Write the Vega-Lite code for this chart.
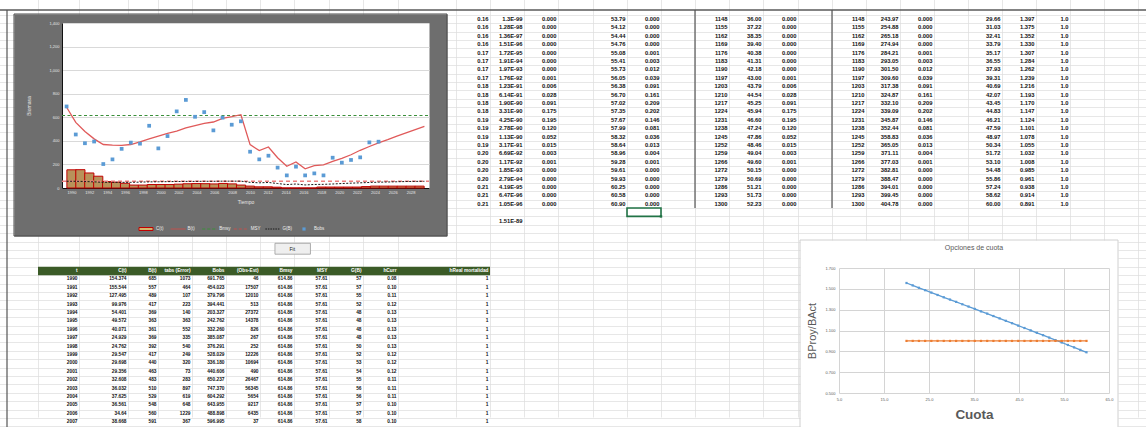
{
"$schema": "https://vega.github.io/schema/vega-lite/v6.json",
"width": 1146, "height": 427, "padding": 0, "autosize": {"type": "none"},
"background": "#ffffff",
"config": {"view": {"stroke": null}, "font": "Liberation Sans"},
"resolve": {"scale": {"x": "independent", "y": "independent"}},
"datasets": {
"hdr": [{"c":2,"h":"t"},{"c":3,"h":"C(t)"},{"c":4,"h":"B(t)"},{"c":5,"h":"tabs (Error)"},{"c":6,"h":"Bobs"},{"c":7,"h":"(Obs-Est)"},{"c":8,"h":"Bmsy"},{"c":9,"h":"MSY"},{"c":10,"h":"G(B)"},{"c":11,"h":"hCurr"},{"c":13,"h":"hReal mortalidad"}],
"colmap": [{"key":"t","c":2},{"key":"Ct","c":3},{"key":"Bt","c":4},{"key":"tabs","c":5},{"key":"Bobs","c":6},{"key":"oe","c":7},{"key":"Bmsy","c":8},{"key":"MSY","c":9},{"key":"GB","c":10},{"key":"hCurr","c":11},{"key":"hReal","c":13},{"key":"qa","c":13},{"key":"qb","c":14},{"key":"qc","c":15},{"key":"qe","c":17},{"key":"qf","c":18},{"key":"qh","c":20},{"key":"qi","c":21},{"key":"qj","c":22},{"key":"qk","c":24},{"key":"ql","c":25},{"key":"qm","c":26},{"key":"qn","c":28},{"key":"qo","c":29},{"key":"qp","c":30}],
"bottom": [
{"r":31,"t":"1990","Ct":"154.374","Bt":"685","tabs":"1073","Bobs":"691.765","oe":"46","Bmsy":"614.86","MSY":"57.61","GB":"57","hCurr":"0.08","hReal":"1"},
{"r":32,"t":"1991","Ct":"155.544","Bt":"557","tabs":"464","Bobs":"454.023","oe":"17507","Bmsy":"614.86","MSY":"57.61","GB":"57","hCurr":"0.10","hReal":"1"},
{"r":33,"t":"1992","Ct":"127.495","Bt":"489","tabs":"107","Bobs":"379.796","oe":"12010","Bmsy":"614.86","MSY":"57.61","GB":"55","hCurr":"0.11","hReal":"1"},
{"r":34,"t":"1993","Ct":"99.976","Bt":"417","tabs":"223","Bobs":"394.441","oe":"513","Bmsy":"614.86","MSY":"57.61","GB":"52","hCurr":"0.12","hReal":"1"},
{"r":35,"t":"1994","Ct":"54.401","Bt":"369","tabs":"140","Bobs":"203.327","oe":"27372","Bmsy":"614.86","MSY":"57.61","GB":"48","hCurr":"0.13","hReal":"1"},
{"r":36,"t":"1995","Ct":"49.572","Bt":"363","tabs":"363","Bobs":"242.762","oe":"14378","Bmsy":"614.86","MSY":"57.61","GB":"48","hCurr":"0.13","hReal":"1"},
{"r":37,"t":"1996","Ct":"40.071","Bt":"361","tabs":"552","Bobs":"332.260","oe":"826","Bmsy":"614.86","MSY":"57.61","GB":"48","hCurr":"0.13","hReal":"1"},
{"r":38,"t":"1997","Ct":"24.929","Bt":"369","tabs":"335","Bobs":"385.087","oe":"267","Bmsy":"614.86","MSY":"57.61","GB":"48","hCurr":"0.13","hReal":"1"},
{"r":39,"t":"1998","Ct":"24.762","Bt":"392","tabs":"540","Bobs":"376.291","oe":"252","Bmsy":"614.86","MSY":"57.61","GB":"50","hCurr":"0.13","hReal":"1"},
{"r":40,"t":"1999","Ct":"29.547","Bt":"417","tabs":"249","Bobs":"528.029","oe":"12226","Bmsy":"614.86","MSY":"57.61","GB":"52","hCurr":"0.12","hReal":"1"},
{"r":41,"t":"2000","Ct":"29.698","Bt":"440","tabs":"320","Bobs":"336.180","oe":"10694","Bmsy":"614.86","MSY":"57.61","GB":"53","hCurr":"0.12","hReal":"1"},
{"r":42,"t":"2001","Ct":"29.356","Bt":"463","tabs":"73","Bobs":"440.606","oe":"490","Bmsy":"614.86","MSY":"57.61","GB":"54","hCurr":"0.12","hReal":"1"},
{"r":43,"t":"2002","Ct":"32.608","Bt":"483","tabs":"283","Bobs":"650.237","oe":"26467","Bmsy":"614.86","MSY":"57.61","GB":"55","hCurr":"0.11","hReal":"1"},
{"r":44,"t":"2003","Ct":"36.032","Bt":"510","tabs":"897","Bobs":"747.370","oe":"56345","Bmsy":"614.86","MSY":"57.61","GB":"56","hCurr":"0.11","hReal":"1"},
{"r":45,"t":"2004","Ct":"37.625","Bt":"529","tabs":"619","Bobs":"604.292","oe":"5654","Bmsy":"614.86","MSY":"57.61","GB":"56","hCurr":"0.11","hReal":"1"},
{"r":46,"t":"2005","Ct":"36.561","Bt":"548","tabs":"648","Bobs":"643.955","oe":"9217","Bmsy":"614.86","MSY":"57.61","GB":"57","hCurr":"0.10","hReal":"1"},
{"r":47,"t":"2006","Ct":"34.64","Bt":"560","tabs":"1229","Bobs":"488.898","oe":"6435","Bmsy":"614.86","MSY":"57.61","GB":"57","hCurr":"0.10","hReal":"1"},
{"r":48,"t":"2007","Ct":"38.668","Bt":"591","tabs":"367","Bobs":"596.995","oe":"37","Bmsy":"614.86","MSY":"57.61","GB":"58","hCurr":"0.10","hReal":"1"}
],
"top": [
{"r":0,"qa":"0.16","qb":"1.3E-99","qc":"0.000","qe":"53.79","qf":"0.000","qh":"1148","qi":"36.00","qj":"0.000","qk":"1148","ql":"243.97","qm":"0.000","qn":"29.66","qo":"1.397","qp":"1.0"},
{"r":1,"qa":"0.16","qb":"1.28E-98","qc":"0.000","qe":"54.12","qf":"0.000","qh":"1155","qi":"37.22","qj":"0.000","qk":"1155","ql":"254.88","qm":"0.000","qn":"31.03","qo":"1.375","qp":"1.0"},
{"r":2,"qa":"0.16","qb":"1.36E-97","qc":"0.000","qe":"54.44","qf":"0.000","qh":"1162","qi":"38.35","qj":"0.000","qk":"1162","ql":"265.18","qm":"0.000","qn":"32.41","qo":"1.352","qp":"1.0"},
{"r":3,"qa":"0.16","qb":"1.51E-96","qc":"0.000","qe":"54.76","qf":"0.000","qh":"1169","qi":"39.40","qj":"0.000","qk":"1169","ql":"274.94","qm":"0.000","qn":"33.79","qo":"1.330","qp":"1.0"},
{"r":4,"qa":"0.17","qb":"1.72E-95","qc":"0.000","qe":"55.08","qf":"0.001","qh":"1176","qi":"40.38","qj":"0.000","qk":"1176","ql":"284.21","qm":"0.001","qn":"35.17","qo":"1.307","qp":"1.0"},
{"r":5,"qa":"0.17","qb":"1.91E-94","qc":"0.000","qe":"55.41","qf":"0.003","qh":"1183","qi":"41.31","qj":"0.000","qk":"1183","ql":"293.05","qm":"0.003","qn":"36.55","qo":"1.284","qp":"1.0"},
{"r":6,"qa":"0.17","qb":"1.97E-93","qc":"0.000","qe":"55.73","qf":"0.012","qh":"1190","qi":"42.18","qj":"0.000","qk":"1190","ql":"301.50","qm":"0.012","qn":"37.93","qo":"1.262","qp":"1.0"},
{"r":7,"qa":"0.17","qb":"1.76E-92","qc":"0.001","qe":"56.05","qf":"0.039","qh":"1197","qi":"43.00","qj":"0.001","qk":"1197","ql":"309.60","qm":"0.039","qn":"39.31","qo":"1.239","qp":"1.0"},
{"r":8,"qa":"0.18","qb":"1.23E-91","qc":"0.006","qe":"56.38","qf":"0.091","qh":"1203","qi":"43.79","qj":"0.006","qk":"1203","ql":"317.38","qm":"0.091","qn":"40.69","qo":"1.216","qp":"1.0"},
{"r":9,"qa":"0.18","qb":"6.14E-91","qc":"0.028","qe":"56.70","qf":"0.161","qh":"1210","qi":"44.54","qj":"0.028","qk":"1210","ql":"324.87","qm":"0.161","qn":"42.07","qo":"1.193","qp":"1.0"},
{"r":10,"qa":"0.18","qb":"1.90E-90","qc":"0.091","qe":"57.02","qf":"0.209","qh":"1217","qi":"45.25","qj":"0.091","qk":"1217","ql":"332.10","qm":"0.209","qn":"43.45","qo":"1.170","qp":"1.0"},
{"r":11,"qa":"0.18","qb":"3.31E-90","qc":"0.175","qe":"57.35","qf":"0.202","qh":"1224","qi":"45.94","qj":"0.175","qk":"1224","ql":"339.09","qm":"0.202","qn":"44.83","qo":"1.147","qp":"1.0"},
{"r":12,"qa":"0.19","qb":"4.25E-90","qc":"0.195","qe":"57.67","qf":"0.146","qh":"1231","qi":"46.60","qj":"0.195","qk":"1231","ql":"345.87","qm":"0.146","qn":"46.21","qo":"1.124","qp":"1.0"},
{"r":13,"qa":"0.19","qb":"2.78E-90","qc":"0.120","qe":"57.99","qf":"0.081","qh":"1238","qi":"47.24","qj":"0.120","qk":"1238","ql":"352.44","qm":"0.081","qn":"47.59","qo":"1.101","qp":"1.0"},
{"r":14,"qa":"0.19","qb":"1.13E-90","qc":"0.052","qe":"58.32","qf":"0.036","qh":"1245","qi":"47.86","qj":"0.052","qk":"1245","ql":"358.83","qm":"0.036","qn":"48.97","qo":"1.078","qp":"1.0"},
{"r":15,"qa":"0.19","qb":"3.17E-91","qc":"0.015","qe":"58.64","qf":"0.013","qh":"1252","qi":"48.46","qj":"0.015","qk":"1252","ql":"365.05","qm":"0.013","qn":"50.34","qo":"1.055","qp":"1.0"},
{"r":16,"qa":"0.20","qb":"6.69E-92","qc":"0.003","qe":"58.96","qf":"0.004","qh":"1259","qi":"49.04","qj":"0.003","qk":"1259","ql":"371.11","qm":"0.004","qn":"51.72","qo":"1.032","qp":"1.0"},
{"r":17,"qa":"0.20","qb":"1.17E-92","qc":"0.001","qe":"59.28","qf":"0.001","qh":"1266","qi":"49.60","qj":"0.001","qk":"1266","ql":"377.03","qm":"0.001","qn":"53.10","qo":"1.008","qp":"1.0"},
{"r":18,"qa":"0.20","qb":"1.85E-93","qc":"0.000","qe":"59.61","qf":"0.000","qh":"1272","qi":"50.15","qj":"0.000","qk":"1272","ql":"382.81","qm":"0.000","qn":"54.48","qo":"0.985","qp":"1.0"},
{"r":19,"qa":"0.20","qb":"2.79E-94","qc":"0.000","qe":"59.93","qf":"0.000","qh":"1279","qi":"50.69","qj":"0.000","qk":"1279","ql":"388.47","qm":"0.000","qn":"55.86","qo":"0.961","qp":"1.0"},
{"r":20,"qa":"0.21","qb":"4.19E-95","qc":"0.000","qe":"60.25","qf":"0.000","qh":"1286","qi":"51.21","qj":"0.000","qk":"1286","ql":"394.01","qm":"0.000","qn":"57.24","qo":"0.938","qp":"1.0"},
{"r":21,"qa":"0.21","qb":"6.47E-96","qc":"0.000","qe":"60.58","qf":"0.000","qh":"1293","qi":"51.73","qj":"0.000","qk":"1293","ql":"399.45","qm":"0.000","qn":"58.62","qo":"0.914","qp":"1.0"},
{"r":22,"qa":"0.21","qb":"1.05E-96","qc":"0.000","qe":"60.90","qf":"0.000","qh":"1300","qi":"52.23","qj":"0.000","qk":"1300","ql":"404.78","qm":"0.000","qn":"60.00","qo":"0.891","qp":"1.0"},
{"r":24,"qb":"1.51E-89"}
],
"stock": [
{"year":1990,"C":154.4,"B":685,"G":57,"Bobs":691.8},
{"year":1991,"C":155.5,"B":557,"G":57,"Bobs":454.0},
{"year":1992,"C":127.5,"B":480,"G":55,"Bobs":379.8},
{"year":1993,"C":100.0,"B":417,"G":52,"Bobs":394.4},
{"year":1994,"C":54.4,"B":369,"G":48,"Bobs":203.3},
{"year":1995,"C":49.6,"B":363,"G":48,"Bobs":242.8},
{"year":1996,"C":40.1,"B":361,"G":48,"Bobs":332.3},
{"year":1997,"C":24.9,"B":369,"G":48,"Bobs":385.1},
{"year":1998,"C":24.8,"B":392,"G":50,"Bobs":376.3},
{"year":1999,"C":29.5,"B":417,"G":52,"Bobs":528.0},
{"year":2000,"C":29.7,"B":440,"G":53,"Bobs":336.2},
{"year":2001,"C":29.4,"B":463,"G":54,"Bobs":440.6},
{"year":2002,"C":32.6,"B":483,"G":55,"Bobs":650.2},
{"year":2003,"C":36.0,"B":510,"G":56,"Bobs":747.4},
{"year":2004,"C":37.6,"B":529,"G":56,"Bobs":604.3},
{"year":2005,"C":36.6,"B":548,"G":57,"Bobs":644.0},
{"year":2006,"C":34.6,"B":560,"G":57,"Bobs":488.9},
{"year":2007,"C":38.7,"B":591,"G":58,"Bobs":597.0},
{"year":2008,"C":35,"B":605,"G":58,"Bobs":537},
{"year":2009,"C":25,"B":622,"G":58,"Bobs":566},
{"year":2010,"C":16,"B":368,"G":48,"Bobs":308},
{"year":2011,"C":10,"B":317,"G":44,"Bobs":243},
{"year":2012,"C":10,"B":348,"G":47,"Bobs":274},
{"year":2013,"C":7,"B":257,"G":38,"Bobs":173},
{"year":2014,"C":0,"B":184,"G":29,"Bobs":107},
{"year":2015,"C":0,"B":221,"G":34,"Bobs":181},
{"year":2016,"C":0,"B":163,"G":26,"Bobs":107},
{"year":2017,"C":0,"B":190,"G":30,"Bobs":124},
{"year":2018,"C":8,"B":197,"G":31,"Bobs":107},
{"year":2019,"C":8,"B":226,"G":34,"Bobs":257},
{"year":2020,"C":8,"B":252,"G":38,"Bobs":215},
{"year":2021,"C":8,"B":282,"G":41,"Bobs":238},
{"year":2022,"C":8,"B":320,"G":44,"Bobs":260},
{"year":2023,"C":12,"B":352,"G":47,"Bobs":387},
{"year":2024,"C":16,"B":382,"G":49,"Bobs":393},
{"year":2025,"C":16,"B":410,"G":51,"Bobs":null},
{"year":2026,"C":16,"B":440,"G":53,"Bobs":null},
{"year":2027,"C":16,"B":468,"G":55,"Bobs":null},
{"year":2028,"C":16,"B":495,"G":56,"Bobs":null},
{"year":2029,"C":16,"B":523,"G":57,"Bobs":null}
],
"legend": [{"i":0,"label":"C(t)"},{"i":1,"label":"B(t)"},{"i":2,"label":"Bmsy"},{"i":3,"label":"MSY"},{"i":4,"label":"G(B)"},{"i":5,"label":"Bobs"}],
"cuota": [
{"cuota":20.00,"ratio":1.556,"ref":1.0},{"cuota":21.38,"ratio":1.533,"ref":1.0},{"cuota":22.76,"ratio":1.510,"ref":1.0},{"cuota":24.14,"ratio":1.487,"ref":1.0},{"cuota":25.52,"ratio":1.464,"ref":1.0},{"cuota":26.90,"ratio":1.441,"ref":1.0},{"cuota":28.28,"ratio":1.419,"ref":1.0},{"cuota":29.66,"ratio":1.397,"ref":1.0},{"cuota":31.03,"ratio":1.375,"ref":1.0},{"cuota":32.41,"ratio":1.352,"ref":1.0},{"cuota":33.79,"ratio":1.330,"ref":1.0},{"cuota":35.17,"ratio":1.307,"ref":1.0},{"cuota":36.55,"ratio":1.284,"ref":1.0},{"cuota":37.93,"ratio":1.262,"ref":1.0},{"cuota":39.31,"ratio":1.239,"ref":1.0},{"cuota":40.69,"ratio":1.216,"ref":1.0},{"cuota":42.07,"ratio":1.193,"ref":1.0},{"cuota":43.45,"ratio":1.170,"ref":1.0},{"cuota":44.83,"ratio":1.147,"ref":1.0},{"cuota":46.21,"ratio":1.124,"ref":1.0},{"cuota":47.59,"ratio":1.101,"ref":1.0},{"cuota":48.97,"ratio":1.078,"ref":1.0},{"cuota":50.34,"ratio":1.055,"ref":1.0},{"cuota":51.72,"ratio":1.032,"ref":1.0},{"cuota":53.10,"ratio":1.008,"ref":1.0},{"cuota":54.48,"ratio":0.985,"ref":1.0},{"cuota":55.86,"ratio":0.961,"ref":1.0},{"cuota":57.24,"ratio":0.938,"ref":1.0},{"cuota":58.62,"ratio":0.914,"ref":1.0},{"cuota":60.00,"ratio":0.891,"ref":1.0}
]
},
"layer": [
{"data": {"values": [{}]}, "mark": {"type": "point", "opacity": 0},
 "encoding": {
  "x": {"datum": 0, "type": "quantitative", "scale": {"domain": [-1,0,1,2,3,4,5,6,7,8,9,10,11,12,13,14,15,16,17,18,19,20,21,22,23,24,25,26,27,28,29,30,31,32,33], "range": [-24,7,38,79,128,158,192,226,260,294,329,363,398,456,490,524,558,593,627,661,695,729,763,798,832,866,900,934,968,1002,1036,1070,1104,1138,1172], "zero": false, "nice": false},
        "axis": {"orient": "bottom", "grid": true, "values": [1,2,3,4,5,6,7,8,9,10,11,12,13,14,15,16,17,18,19,20,21,22,23,24,25,26,27,28,29,30,31,32,33], "gridColor": "#DCDCDC", "gridWidth": 0.7, "labels": false, "ticks": false, "domain": false, "title": null}},
  "y": {"datum": 0, "type": "quantitative", "scale": {"domain": [-0.57, 51], "range": [10, 443.2], "zero": false, "nice": false},
        "axis": {"orient": "left", "grid": true, "values": [0,1,2,3,4,5,6,7,8,9,10,11,12,13,14,15,16,17,18,19,20,21,22,23,24,25,26,27,28,29,30,31,32,33,34,35,36,37,38,39,40,41,42,43,44,45,46,47,48,49,50], "gridColor": "#DCDCDC", "gridWidth": 0.7, "labels": false, "ticks": false, "domain": false, "title": null}}}},
{"data": {"values": [{}]}, "mark": {"type": "point", "opacity": 0},
 "encoding": {
  "x": {"datum": 0.5, "type": "quantitative", "scale": {"domain": [0, 1], "range": [14, 447], "zero": false, "nice": false}, "axis": null},
  "y": {"datum": 0.5, "type": "quantitative", "scale": {"domain": [0, 1], "range": [236, 14], "zero": false, "nice": false},
        "axis": {"orient": "left", "grid": true, "values": [0.5], "gridColor": "#6E6E6E", "gridWidth": 222, "gridOpacity": 1, "labels": false, "ticks": false, "domain": false, "title": null}}}},
{"data": {"values": [{}]}, "mark": {"type": "point", "opacity": 0},
 "encoding": {
  "x": {"datum": 0.5, "type": "quantitative", "scale": {"domain": [0, 1], "range": [62, 429], "zero": false, "nice": false}, "axis": null},
  "y": {"datum": 0.5, "type": "quantitative", "scale": {"domain": [0, 1], "range": [188, 23], "zero": false, "nice": false},
        "axis": {"orient": "left", "grid": true, "values": [0.5], "gridColor": "#ffffff", "gridWidth": 165, "gridOpacity": 1, "labels": false, "ticks": false, "domain": false, "title": null}}}},
{"data": {"values": [{}]}, "mark": {"type": "point", "opacity": 0},
 "encoding": {
  "x": {"datum": 0.5, "type": "quantitative", "scale": {"domain": [0, 1], "range": [800, 1118], "zero": false, "nice": false}, "axis": null},
  "y": {"datum": 0.5, "type": "quantitative", "scale": {"domain": [0, 1], "range": [440, 240], "zero": false, "nice": false},
        "axis": {"orient": "left", "grid": true, "values": [0.5], "gridColor": "#ffffff", "gridWidth": 200, "gridOpacity": 1, "labels": false, "ticks": false, "domain": false, "title": null}}}},
{"data": {"name": "stock"}, "mark": {"type": "bar", "width": 9.175, "fill": "#B8925A", "stroke": "#C00000", "strokeWidth": 1},
 "encoding": {
  "x": {"field": "year", "type": "quantitative", "scale": {"domain": [1989.5, 2029.5], "range": [62, 429], "zero": false, "nice": false},
        "axis": {"orient": "bottom", "offset": -239, "values": [1990,1992,1994,1996,1998,2000,2002,2004,2006,2008,2010,2012,2014,2016,2018,2020,2022,2024,2026,2028], "format": "d", "grid": false, "ticks": false, "domain": true, "domainColor": "#111111", "domainWidth": 1, "labelFontSize": 4, "labelColor": "#E6E6E6", "labelPadding": 2, "labelOverlap": false, "labelFlush": false, "title": "Tiempo", "titleFontSize": 5, "titleFontWeight": "normal", "titleColor": "#E6E6E6", "titlePadding": 5}},
  "y": {"field": "C", "type": "quantitative", "scale": {"domain": [0, 1400], "range": [188, 23], "zero": false, "nice": false},
        "axis": {"orient": "left", "offset": -62, "values": [0,200,400,600,800,1000,1200,1400], "grid": true, "gridColor": "#D9D9D9", "gridWidth": 1, "ticks": false, "domain": true, "domainColor": "#111111", "domainWidth": 1, "labelFontSize": 4, "labelColor": "#E6E6E6", "labelPadding": 3, "labelOverlap": false, "labelFlush": false, "title": "Biomasa", "titleFontSize": 5, "titleFontWeight": "normal", "titleColor": "#E6E6E6", "titlePadding": 17}}}},
{"data": {"values": [{}]}, "mark": {"type": "rule", "color": "#EC8080", "strokeWidth": 1.6, "strokeDash": [4, 3]},
 "encoding": {"x": {"datum": 1989.5, "type": "quantitative", "scale": {"domain": [1989.5, 2029.5], "range": [62, 429], "zero": false, "nice": false}, "axis": null}, "x2": {"datum": 2029.5},
  "y": {"datum": 57.61, "type": "quantitative", "scale": {"domain": [0, 1400], "range": [188, 23], "zero": false, "nice": false}, "axis": null}}},
{"data": {"values": [{}]}, "mark": {"type": "rule", "color": "#3A8F3A", "strokeWidth": 1.1, "strokeDash": [3, 2.5]},
 "encoding": {"x": {"datum": 1989.5, "type": "quantitative", "scale": {"domain": [1989.5, 2029.5], "range": [62, 429], "zero": false, "nice": false}, "axis": null}, "x2": {"datum": 2029.5},
  "y": {"datum": 614.86, "type": "quantitative", "scale": {"domain": [0, 1400], "range": [188, 23], "zero": false, "nice": false}, "axis": null}}},
{"data": {"name": "stock"}, "mark": {"type": "line", "color": "#1A1A1A", "strokeWidth": 1, "strokeDash": [2, 1.5]},
 "encoding": {"x": {"field": "year", "type": "quantitative", "scale": {"domain": [1989.5, 2029.5], "range": [62, 429], "zero": false, "nice": false}, "axis": null},
  "y": {"field": "G", "type": "quantitative", "scale": {"domain": [0, 1400], "range": [188, 23], "zero": false, "nice": false}, "axis": null}}},
{"data": {"name": "stock"}, "mark": {"type": "line", "color": "#E05A5A", "strokeWidth": 1.3},
 "encoding": {"x": {"field": "year", "type": "quantitative", "scale": {"domain": [1989.5, 2029.5], "range": [62, 429], "zero": false, "nice": false}, "axis": null},
  "y": {"field": "B", "type": "quantitative", "scale": {"domain": [0, 1400], "range": [188, 23], "zero": false, "nice": false}, "axis": null}}},
{"data": {"name": "stock"}, "transform": [{"filter": "datum.Bobs != null"}],
 "mark": {"type": "point", "shape": "square", "filled": true, "size": 14, "color": "#5B9BD5", "opacity": 1},
 "encoding": {"x": {"field": "year", "type": "quantitative", "scale": {"domain": [1989.5, 2029.5], "range": [62, 429], "zero": false, "nice": false}, "axis": null},
  "y": {"field": "Bobs", "type": "quantitative", "scale": {"domain": [0, 1400], "range": [188, 23], "zero": false, "nice": false}, "axis": null}}},
{"data": {"name": "cuota"}, "mark": {"type": "line", "color": "#5B9BD5", "strokeWidth": 1.3, "point": {"filled": true, "size": 5, "shape": "square", "color": "#5B9BD5"}},
 "encoding": {
  "x": {"field": "cuota", "type": "quantitative", "scale": {"domain": [5, 65], "range": [839, 1109], "zero": false, "nice": false},
        "axis": {"orient": "bottom", "offset": -34, "values": [5,15,25,35,45,55,65], "format": ".1f", "grid": false, "domain": false, "ticks": false, "labelFontSize": 4, "labelColor": "#595959", "labelPadding": 4, "labelOverlap": false, "labelFlush": false, "title": "Cuota", "titleFontSize": 13.5, "titleFontWeight": "bold", "titleColor": "#595959", "titlePadding": 6}},
  "y": {"field": "ratio", "type": "quantitative", "scale": {"domain": [0.5, 1.7], "range": [393, 268], "zero": false, "nice": false},
        "axis": {"orient": "left", "offset": -839, "values": [0.5,0.7,0.9,1.1,1.3,1.5,1.7], "format": ".3f", "grid": true, "gridColor": "#D4D4D4", "gridWidth": 1, "domain": false, "ticks": false, "labelFontSize": 4, "labelColor": "#595959", "labelPadding": 4, "labelOverlap": false, "labelFlush": false, "title": "BProy/BAct", "titleFontSize": 11, "titleFontWeight": "normal", "titleColor": "#595959", "titlePadding": 7}}}},
{"data": {"name": "cuota"}, "mark": {"type": "line", "color": "#ED7D31", "strokeWidth": 1.3, "point": {"filled": true, "size": 5, "shape": "square", "color": "#ED7D31"}},
 "encoding": {
  "x": {"field": "cuota", "type": "quantitative", "scale": {"domain": [5, 65], "range": [839, 1109], "zero": false, "nice": false},
        "axis": {"orient": "top", "offset": -393, "values": [5,15,25,35,45,55,65], "grid": false, "domain": false, "labels": false, "ticks": true, "tickSize": 125, "tickColor": "#D4D4D4", "tickWidth": 1, "title": null}},
  "y": {"field": "ref", "type": "quantitative", "scale": {"domain": [0.5, 1.7], "range": [393, 268], "zero": false, "nice": false}, "axis": null}}},
{"data": {"values": [{"v": "Opciones de cuota"}]}, "mark": {"type": "text", "align": "center", "baseline": "middle", "fontSize": 7, "color": "#595959"},
 "encoding": {"x": {"datum": 35, "type": "quantitative", "scale": {"domain": [5, 65], "range": [839, 1109], "zero": false, "nice": false}, "axis": null},
  "y": {"datum": 1.89, "type": "quantitative", "scale": {"domain": [0.5, 1.7], "range": [393, 268], "zero": false, "nice": false}, "axis": null}, "text": {"field": "v"}}},
{"data": {"values": [{}]}, "mark": {"type": "rect", "fillOpacity": 0, "stroke": "#D0D0D0", "strokeWidth": 1},
 "encoding": {"x": {"datum": 0, "type": "quantitative", "scale": {"domain": [0, 1], "range": [800, 1118], "zero": false, "nice": false}, "axis": null}, "x2": {"datum": 1},
  "y": {"datum": 0, "type": "quantitative", "scale": {"domain": [0, 1], "range": [440, 240], "zero": false, "nice": false}, "axis": null}, "y2": {"datum": 1}}},
{"data": {"values": [{}]}, "mark": {"type": "rect", "fillOpacity": 0, "stroke": "#4A4A4A", "strokeWidth": 1},
 "encoding": {"x": {"datum": 0, "type": "quantitative", "scale": {"domain": [0, 1], "range": [14, 447], "zero": false, "nice": false}, "axis": null}, "x2": {"datum": 1},
  "y": {"datum": 0, "type": "quantitative", "scale": {"domain": [0, 1], "range": [236, 14], "zero": false, "nice": false}, "axis": null}, "y2": {"datum": 1}}},
{"data": {"values": [{}]}, "mark": {"type": "rule", "color": "#5A5A5A", "strokeWidth": 1.5},
 "encoding": {"x": {"datum": -1, "type": "quantitative", "scale": {"domain": [-1,0,1,2,3,4,5,6,7,8,9,10,11,12,13,14,15,16,17,18,19,20,21,22,23,24,25,26,27,28,29,30,31,32,33], "range": [-24,7,38,79,128,158,192,226,260,294,329,363,398,456,490,524,558,593,627,661,695,729,763,798,832,866,900,934,968,1002,1036,1070,1104,1138,1172], "zero": false, "nice": false}, "axis": null}, "x2": {"datum": 33},
  "y": {"datum": -0.57, "type": "quantitative", "scale": {"domain": [-0.57, 51], "range": [10, 443.2], "zero": false, "nice": false}, "axis": null}}},
{"data": {"values": [{}]}, "mark": {"type": "rule", "color": "#555555", "strokeWidth": 1.2},
 "encoding": {"x": {"datum": 0, "type": "quantitative", "scale": {"domain": [-1,0,1,2,3,4,5,6,7,8,9,10,11,12,13,14,15,16,17,18,19,20,21,22,23,24,25,26,27,28,29,30,31,32,33], "range": [-24,7,38,79,128,158,192,226,260,294,329,363,398,456,490,524,558,593,627,661,695,729,763,798,832,866,900,934,968,1002,1036,1070,1104,1138,1172], "zero": false, "nice": false}, "axis": null},
  "y": {"datum": -0.57, "type": "quantitative", "scale": {"domain": [-0.57, 51], "range": [10, 443.2], "zero": false, "nice": false}, "axis": null}, "y2": {"datum": 51}}},
{"data": {"values": [{"c": 19}, {"c": 23}]}, "mark": {"type": "rule", "color": "#555555", "strokeWidth": 1.2},
 "encoding": {"x": {"field": "c", "type": "quantitative", "scale": {"domain": [-1,0,1,2,3,4,5,6,7,8,9,10,11,12,13,14,15,16,17,18,19,20,21,22,23,24,25,26,27,28,29,30,31,32,33], "range": [-24,7,38,79,128,158,192,226,260,294,329,363,398,456,490,524,558,593,627,661,695,729,763,798,832,866,900,934,968,1002,1036,1070,1104,1138,1172], "zero": false, "nice": false}, "axis": null},
  "y": {"datum": -0.57, "type": "quantitative", "scale": {"domain": [-0.57, 51], "range": [10, 443.2], "zero": false, "nice": false}, "axis": null}, "y2": {"datum": 23}}},
{"data": {"values": [{}]}, "mark": {"type": "rect", "fill": "#3B5B27"},
 "encoding": {"x": {"datum": 1, "type": "quantitative", "scale": {"domain": [-1,0,1,2,3,4,5,6,7,8,9,10,11,12,13,14,15,16,17,18,19,20,21,22,23,24,25,26,27,28,29,30,31,32,33], "range": [-24,7,38,79,128,158,192,226,260,294,329,363,398,456,490,524,558,593,627,661,695,729,763,798,832,866,900,934,968,1002,1036,1070,1104,1138,1172], "zero": false, "nice": false}, "axis": null}, "x2": {"datum": 13},
  "y": {"datum": 30, "type": "quantitative", "scale": {"domain": [-0.57, 51], "range": [10, 443.2], "zero": false, "nice": false}, "axis": null}, "y2": {"datum": 31}}},
{"data": {"name": "hdr"}, "mark": {"type": "text", "align": "right", "baseline": "middle", "dx": -1.5, "dy": 4.2, "fontSize": 4.8, "fontWeight": "bold", "color": "#ffffff"},
 "encoding": {"x": {"field": "c", "type": "quantitative", "scale": {"domain": [-1,0,1,2,3,4,5,6,7,8,9,10,11,12,13,14,15,16,17,18,19,20,21,22,23,24,25,26,27,28,29,30,31,32,33], "range": [-24,7,38,79,128,158,192,226,260,294,329,363,398,456,490,524,558,593,627,661,695,729,763,798,832,866,900,934,968,1002,1036,1070,1104,1138,1172], "zero": false, "nice": false}, "axis": null},
  "y": {"datum": 30, "type": "quantitative", "scale": {"domain": [-0.57, 51], "range": [10, 443.2], "zero": false, "nice": false}, "axis": null}, "text": {"field": "h"}}},
{"data": {"name": "bottom"},
 "transform": [{"fold": ["t","Ct","Bt","tabs","Bobs","oe","Bmsy","MSY","GB","hCurr","hReal"], "as": ["key","v"]},
               {"lookup": "key", "from": {"data": {"name": "colmap"}, "key": "key", "fields": ["c"]}}],
 "mark": {"type": "text", "align": "right", "baseline": "middle", "dx": -1.5, "dy": 4.2, "fontSize": 4.8, "fontWeight": "bold", "color": "#111111"},
 "encoding": {"x": {"field": "c", "type": "quantitative", "scale": {"domain": [-1,0,1,2,3,4,5,6,7,8,9,10,11,12,13,14,15,16,17,18,19,20,21,22,23,24,25,26,27,28,29,30,31,32,33], "range": [-24,7,38,79,128,158,192,226,260,294,329,363,398,456,490,524,558,593,627,661,695,729,763,798,832,866,900,934,968,1002,1036,1070,1104,1138,1172], "zero": false, "nice": false}, "axis": null},
  "y": {"field": "r", "type": "quantitative", "scale": {"domain": [-0.57, 51], "range": [10, 443.2], "zero": false, "nice": false}, "axis": null}, "text": {"field": "v"}}},
{"data": {"name": "top"},
 "transform": [{"fold": ["qa","qb","qc","qe","qf","qh","qi","qj","qk","ql","qm","qn","qo","qp"], "as": ["key","v"]},
               {"filter": "datum.v != null"},
               {"lookup": "key", "from": {"data": {"name": "colmap"}, "key": "key", "fields": ["c"]}}],
 "mark": {"type": "text", "align": "right", "baseline": "middle", "dx": -1.5, "dy": 4.2, "fontSize": 5.8, "fontWeight": "bold", "color": "#111111"},
 "encoding": {"x": {"field": "c", "type": "quantitative", "scale": {"domain": [-1,0,1,2,3,4,5,6,7,8,9,10,11,12,13,14,15,16,17,18,19,20,21,22,23,24,25,26,27,28,29,30,31,32,33], "range": [-24,7,38,79,128,158,192,226,260,294,329,363,398,456,490,524,558,593,627,661,695,729,763,798,832,866,900,934,968,1002,1036,1070,1104,1138,1172], "zero": false, "nice": false}, "axis": null},
  "y": {"field": "r", "type": "quantitative", "scale": {"domain": [-0.57, 51], "range": [10, 443.2], "zero": false, "nice": false}, "axis": null}, "text": {"field": "v"}}},
{"data": {"values": [{}]}, "mark": {"type": "rect", "fillOpacity": 0, "stroke": "#217346", "strokeWidth": 1.6},
 "encoding": {"x": {"datum": 17, "type": "quantitative", "scale": {"domain": [-1,0,1,2,3,4,5,6,7,8,9,10,11,12,13,14,15,16,17,18,19,20,21,22,23,24,25,26,27,28,29,30,31,32,33], "range": [-24,7,38,79,128,158,192,226,260,294,329,363,398,456,490,524,558,593,627,661,695,729,763,798,832,866,900,934,968,1002,1036,1070,1104,1138,1172], "zero": false, "nice": false}, "axis": null}, "x2": {"datum": 18},
  "y": {"datum": 23, "type": "quantitative", "scale": {"domain": [-0.57, 51], "range": [10, 443.2], "zero": false, "nice": false}, "axis": null}, "y2": {"datum": 24}}},
{"data": {"values": [{}]}, "mark": {"type": "point", "shape": "square", "filled": true, "size": 6, "color": "#217346", "opacity": 1},
 "encoding": {"x": {"datum": 18, "type": "quantitative", "scale": {"domain": [-1,0,1,2,3,4,5,6,7,8,9,10,11,12,13,14,15,16,17,18,19,20,21,22,23,24,25,26,27,28,29,30,31,32,33], "range": [-24,7,38,79,128,158,192,226,260,294,329,363,398,456,490,524,558,593,627,661,695,729,763,798,832,866,900,934,968,1002,1036,1070,1104,1138,1172], "zero": false, "nice": false}, "axis": null},
  "y": {"datum": 24, "type": "quantitative", "scale": {"domain": [-0.57, 51], "range": [10, 443.2], "zero": false, "nice": false}, "axis": null}}},
{"data": {"values": [{}]}, "mark": {"type": "rect", "fill": "#EFEFEF", "stroke": "#9A9A9A", "strokeWidth": 0.8},
 "encoding": {"x": {"datum": 7.44, "type": "quantitative", "scale": {"domain": [-1,0,1,2,3,4,5,6,7,8,9,10,11,12,13,14,15,16,17,18,19,20,21,22,23,24,25,26,27,28,29,30,31,32,33], "range": [-24,7,38,79,128,158,192,226,260,294,329,363,398,456,490,524,558,593,627,661,695,729,763,798,832,866,900,934,968,1002,1036,1070,1104,1138,1172], "zero": false, "nice": false}, "axis": null}, "x2": {"datum": 8.47},
  "y": {"datum": 27.2, "type": "quantitative", "scale": {"domain": [-0.57, 51], "range": [10, 443.2], "zero": false, "nice": false}, "axis": null}, "y2": {"datum": 28.5}}},
{"data": {"values": [{"v": "Fit"}]}, "mark": {"type": "text", "align": "center", "baseline": "middle", "fontSize": 5, "color": "#222222"},
 "encoding": {"x": {"datum": 7.95, "type": "quantitative", "scale": {"domain": [-1,0,1,2,3,4,5,6,7,8,9,10,11,12,13,14,15,16,17,18,19,20,21,22,23,24,25,26,27,28,29,30,31,32,33], "range": [-24,7,38,79,128,158,192,226,260,294,329,363,398,456,490,524,558,593,627,661,695,729,763,798,832,866,900,934,968,1002,1036,1070,1104,1138,1172], "zero": false, "nice": false}, "axis": null},
  "y": {"datum": 27.85, "type": "quantitative", "scale": {"domain": [-0.57, 51], "range": [10, 443.2], "zero": false, "nice": false}, "axis": null}, "text": {"field": "v"}}},
{"data": {"name": "legend"}, "mark": {"type": "text", "align": "left", "baseline": "middle", "dx": 17, "fontSize": 4.5, "color": "#EEEEEE"},
 "encoding": {
  "x": {"field": "i", "type": "quantitative", "axis": null, "scale": {"domain": [0, 5], "range": [139, 297], "zero": false, "nice": false}},
  "y": {"datum": 0, "type": "quantitative", "axis": null, "scale": {"domain": [0, 1], "range": [229, 239], "zero": false, "nice": false}},
  "text": {"field": "label"}}},
{"data": {"name": "legend"}, "transform": [{"filter": "datum.i == 0"}],
 "mark": {"type": "rect", "fill": "#D4B56A", "stroke": "#C00000", "strokeWidth": 1, "x2Offset": 14, "yOffset": -1.5, "y2Offset": 1.5},
 "encoding": {"x": {"field": "i", "type": "quantitative", "axis": null, "scale": {"domain": [0, 5], "range": [139, 297], "zero": false, "nice": false}}, "x2": {"field": "i"},
  "y": {"datum": 0, "type": "quantitative", "axis": null, "scale": {"domain": [0, 1], "range": [229, 239], "zero": false, "nice": false}}, "y2": {"datum": 0}}},
{"data": {"name": "legend"}, "transform": [{"filter": "datum.i >= 1 && datum.i <= 4"}],
 "mark": {"type": "rule", "x2Offset": 15, "strokeWidth": 1.2},
 "encoding": {"x": {"field": "i", "type": "quantitative", "axis": null, "scale": {"domain": [0, 5], "range": [139, 297], "zero": false, "nice": false}}, "x2": {"field": "i"},
  "y": {"datum": 0, "type": "quantitative", "axis": null, "scale": {"domain": [0, 1], "range": [229, 239], "zero": false, "nice": false}},
  "color": {"field": "label", "type": "nominal", "legend": null, "scale": {"domain": ["B(t)","Bmsy","MSY","G(B)"], "range": ["#C0504D","#3A8F3A","#C0504D","#1A1A1A"]}},
  "strokeDash": {"field": "label", "type": "nominal", "legend": null, "scale": {"domain": ["B(t)","Bmsy","MSY","G(B)"], "range": [[1,0],[3,2],[3,2],[1.5,1]]}}}},
{"data": {"name": "legend"}, "transform": [{"filter": "datum.i == 5"}],
 "mark": {"type": "point", "shape": "square", "filled": true, "size": 10, "color": "#5B9BD5", "opacity": 1, "xOffset": 7},
 "encoding": {"x": {"field": "i", "type": "quantitative", "axis": null, "scale": {"domain": [0, 5], "range": [139, 297], "zero": false, "nice": false}},
  "y": {"datum": 0, "type": "quantitative", "axis": null, "scale": {"domain": [0, 1], "range": [229, 239], "zero": false, "nice": false}}}}
]
}
